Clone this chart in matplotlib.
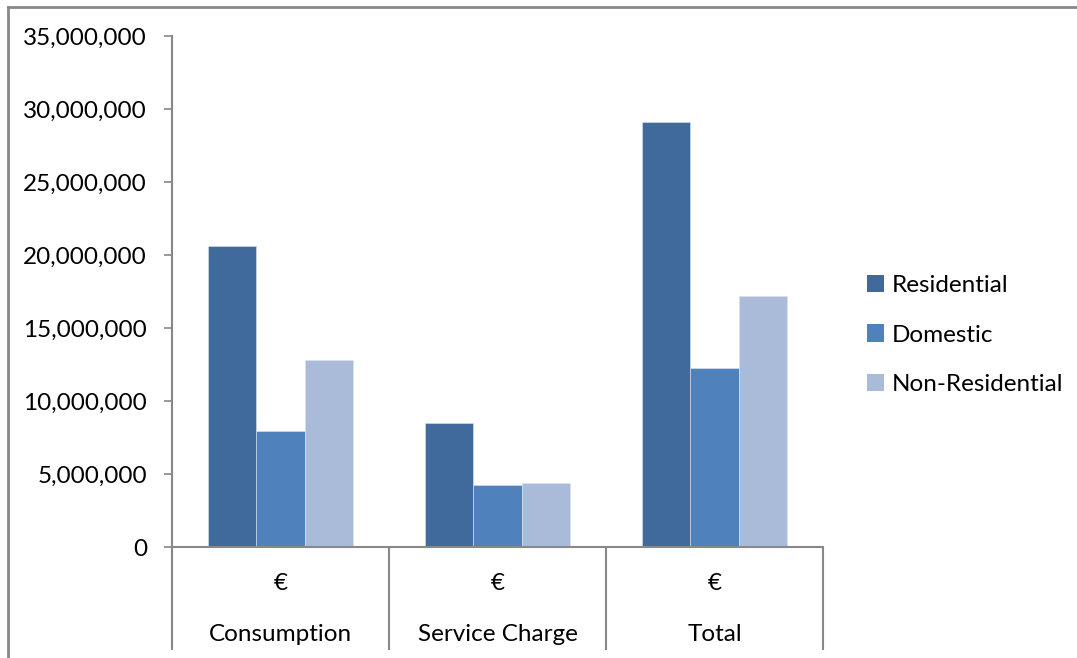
import matplotlib.pyplot as plt
import numpy as np
from matplotlib.lines import Line2D
from matplotlib.patches import Patch
from matplotlib.ticker import FuncFormatter

plt.rcParams["font.family"] = ["Lato", "DejaVu Sans"]

categories = ["Consumption", "Service Charge", "Total"]
unit_labels = ["€", "€", "€"]
series_names = ["Residential", "Domestic", "Non-Residential"]
residential = [20620000, 8490000, 29110000]
domestic = [7950000, 4250000, 12250000]
non_residential = [12810000, 4380000, 17190000]
colors = ["#406A9C", "#4F81BD", "#AABBD9"]

FS = 17.5

fig = plt.figure(figsize=(10.77, 6.58), dpi=100)
ax = fig.add_axes([172 / 1077, 1 - 547 / 658, (823 - 172) / 1077, (547 - 36) / 658])

x = np.arange(len(categories))
w = 1 / 4.5
for i, (vals, c) in enumerate(zip([residential, domestic, non_residential], colors)):
    ax.bar(x + (i - 1) * w, vals, width=w, color=c, edgecolor="#DCE3EE", linewidth=0.4)

ax.set_xlim(-0.5, len(categories) - 0.5)
ax.set_ylim(0, 35000000)
ax.set_yticks(np.arange(0, 35000001, 5000000))
ax.yaxis.set_major_formatter(FuncFormatter(lambda v, p: f"{int(v):,}"))
ax.tick_params(axis="y", direction="out", length=6, width=1.2, color="#888888",
               labelsize=FS, pad=12)
ax.set_xticks([])

for side in ["top", "right"]:
    ax.spines[side].set_visible(False)
for side in ["left", "bottom"]:
    ax.spines[side].set_color("#888888")
    ax.spines[side].set_linewidth(1.5)

# two-level category axis: separators run below the plot area
xt = ax.get_xaxis_transform()
for b in np.arange(len(categories) + 1) - 0.5:
    ax.plot([b, b], [0, -0.202], transform=xt, color="#888888",
            lw=1.5, clip_on=False, solid_capstyle="butt")
for xi, unit, name in zip(x, unit_labels, categories):
    ax.text(xi, -0.072, unit, transform=xt, ha="center", va="center", fontsize=FS)
    ax.text(xi, -0.171, name, transform=xt, ha="center", va="center", fontsize=FS)

handles = [Patch(facecolor=c, edgecolor="none") for c in colors]
fig.legend(handles, series_names, loc="center left", bbox_to_anchor=(867 / 1077, 1 - 335 / 658),
           frameon=False, fontsize=FS, handlelength=0.7, handleheight=0.7,
           handletextpad=0.3, labelspacing=1.17, borderaxespad=0, borderpad=0)

# chart-area border along the top and left edges
fig.add_artist(Line2D([8 / 1077, 1], [1 - 7 / 658, 1 - 7 / 658], color="#888888", lw=2))
fig.add_artist(Line2D([8 / 1077, 8 / 1077], [0, 1 - 7 / 658], color="#888888", lw=2))

fig.savefig("out.png", dpi=100)
